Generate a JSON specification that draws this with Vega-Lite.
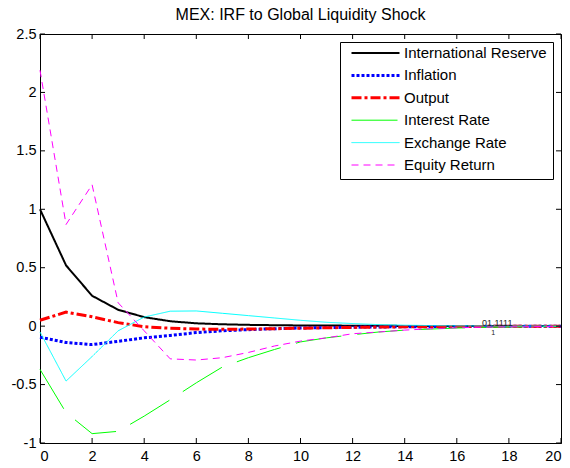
{
  "$schema": "https://vega.github.io/schema/vega-lite/v6.json",
  "autosize": {"type": "none"},
  "padding": {"left": 40, "top": 34, "right": 9, "bottom": 25},
  "width": 521,
  "height": 409,
  "title": {
    "text": "MEX: IRF to Global Liquidity Shock",
    "font": "Liberation Sans",
    "fontSize": 16,
    "fontWeight": "normal",
    "color": "black",
    "anchor": "middle",
    "offset": 3
  },
  "datasets": {
    "xticks": [{"t": 0}, {"t": 2}, {"t": 4}, {"t": 6}, {"t": 8}, {"t": 10}, {"t": 12}, {"t": 14}, {"t": 16}, {"t": 18}, {"t": 20}],
    "yticks": [{"v": -1}, {"v": -0.5}, {"v": 0}, {"v": 0.5}, {"v": 1}, {"v": 1.5}, {"v": 2}, {"v": 2.5}]
  },
  "data": {
    "values": [
      {"t": 0, "series": "International Reserve", "v": 1.0},
      {"t": 1, "series": "International Reserve", "v": 0.52},
      {"t": 2, "series": "International Reserve", "v": 0.26},
      {"t": 3, "series": "International Reserve", "v": 0.14},
      {"t": 4, "series": "International Reserve", "v": 0.077},
      {"t": 5, "series": "International Reserve", "v": 0.042},
      {"t": 6, "series": "International Reserve", "v": 0.024},
      {"t": 7, "series": "International Reserve", "v": 0.016},
      {"t": 8, "series": "International Reserve", "v": 0.011},
      {"t": 9, "series": "International Reserve", "v": 0.008},
      {"t": 10, "series": "International Reserve", "v": 0.006},
      {"t": 11, "series": "International Reserve", "v": 0.005},
      {"t": 12, "series": "International Reserve", "v": 0.004},
      {"t": 13, "series": "International Reserve", "v": 0.003},
      {"t": 14, "series": "International Reserve", "v": 0.002},
      {"t": 15, "series": "International Reserve", "v": 0.002},
      {"t": 16, "series": "International Reserve", "v": 0.001},
      {"t": 17, "series": "International Reserve", "v": 0.001},
      {"t": 18, "series": "International Reserve", "v": 0.001},
      {"t": 19, "series": "International Reserve", "v": 0.0005},
      {"t": 20, "series": "International Reserve", "v": 0.0003},

      {"t": 0, "series": "Inflation", "v": -0.095},
      {"t": 1, "series": "Inflation", "v": -0.14},
      {"t": 2, "series": "Inflation", "v": -0.158},
      {"t": 3, "series": "Inflation", "v": -0.13},
      {"t": 4, "series": "Inflation", "v": -0.1},
      {"t": 5, "series": "Inflation", "v": -0.08},
      {"t": 6, "series": "Inflation", "v": -0.055},
      {"t": 7, "series": "Inflation", "v": -0.04},
      {"t": 8, "series": "Inflation", "v": -0.03},
      {"t": 9, "series": "Inflation", "v": -0.022},
      {"t": 10, "series": "Inflation", "v": -0.016},
      {"t": 11, "series": "Inflation", "v": -0.012},
      {"t": 12, "series": "Inflation", "v": -0.009},
      {"t": 13, "series": "Inflation", "v": -0.007},
      {"t": 14, "series": "Inflation", "v": -0.005},
      {"t": 15, "series": "Inflation", "v": -0.004},
      {"t": 16, "series": "Inflation", "v": -0.003},
      {"t": 17, "series": "Inflation", "v": -0.002},
      {"t": 18, "series": "Inflation", "v": -0.0015},
      {"t": 19, "series": "Inflation", "v": -0.001},
      {"t": 20, "series": "Inflation", "v": -0.0008},

      {"t": 0, "series": "Output", "v": 0.05},
      {"t": 1, "series": "Output", "v": 0.12},
      {"t": 2, "series": "Output", "v": 0.08},
      {"t": 3, "series": "Output", "v": 0.03},
      {"t": 4, "series": "Output", "v": -0.005},
      {"t": 5, "series": "Output", "v": -0.018},
      {"t": 6, "series": "Output", "v": -0.025},
      {"t": 7, "series": "Output", "v": -0.027},
      {"t": 8, "series": "Output", "v": -0.025},
      {"t": 9, "series": "Output", "v": -0.022},
      {"t": 10, "series": "Output", "v": -0.018},
      {"t": 11, "series": "Output", "v": -0.014},
      {"t": 12, "series": "Output", "v": -0.011},
      {"t": 13, "series": "Output", "v": -0.008},
      {"t": 14, "series": "Output", "v": -0.006},
      {"t": 15, "series": "Output", "v": -0.004},
      {"t": 16, "series": "Output", "v": -0.003},
      {"t": 17, "series": "Output", "v": -0.002},
      {"t": 18, "series": "Output", "v": -0.0015},
      {"t": 19, "series": "Output", "v": -0.001},
      {"t": 20, "series": "Output", "v": -0.0007},

      {"t": 0, "series": "Interest Rate", "v": -0.37},
      {"t": 1, "series": "Interest Rate", "v": -0.74},
      {"t": 2, "series": "Interest Rate", "v": -0.92},
      {"t": 3, "series": "Interest Rate", "v": -0.9},
      {"t": 4, "series": "Interest Rate", "v": -0.77},
      {"t": 5, "series": "Interest Rate", "v": -0.63},
      {"t": 6, "series": "Interest Rate", "v": -0.485},
      {"t": 7, "series": "Interest Rate", "v": -0.35},
      {"t": 8, "series": "Interest Rate", "v": -0.27},
      {"t": 9, "series": "Interest Rate", "v": -0.2},
      {"t": 10, "series": "Interest Rate", "v": -0.135},
      {"t": 11, "series": "Interest Rate", "v": -0.1},
      {"t": 12, "series": "Interest Rate", "v": -0.074},
      {"t": 13, "series": "Interest Rate", "v": -0.05},
      {"t": 14, "series": "Interest Rate", "v": -0.034},
      {"t": 15, "series": "Interest Rate", "v": -0.025},
      {"t": 16, "series": "Interest Rate", "v": -0.016},
      {"t": 17, "series": "Interest Rate", "v": -0.011},
      {"t": 18, "series": "Interest Rate", "v": -0.007},
      {"t": 19, "series": "Interest Rate", "v": -0.005},
      {"t": 20, "series": "Interest Rate", "v": -0.003},

      {"t": 0, "series": "Exchange Rate", "v": -0.05},
      {"t": 1, "series": "Exchange Rate", "v": -0.47},
      {"t": 2, "series": "Exchange Rate", "v": -0.26},
      {"t": 3, "series": "Exchange Rate", "v": -0.04},
      {"t": 4, "series": "Exchange Rate", "v": 0.078},
      {"t": 5, "series": "Exchange Rate", "v": 0.128},
      {"t": 6, "series": "Exchange Rate", "v": 0.13},
      {"t": 7, "series": "Exchange Rate", "v": 0.11},
      {"t": 8, "series": "Exchange Rate", "v": 0.09},
      {"t": 9, "series": "Exchange Rate", "v": 0.07},
      {"t": 10, "series": "Exchange Rate", "v": 0.05},
      {"t": 11, "series": "Exchange Rate", "v": 0.033},
      {"t": 12, "series": "Exchange Rate", "v": 0.022},
      {"t": 13, "series": "Exchange Rate", "v": 0.013},
      {"t": 14, "series": "Exchange Rate", "v": 0.008},
      {"t": 15, "series": "Exchange Rate", "v": 0.005},
      {"t": 16, "series": "Exchange Rate", "v": 0.003},
      {"t": 17, "series": "Exchange Rate", "v": 0.002},
      {"t": 18, "series": "Exchange Rate", "v": 0.001},
      {"t": 19, "series": "Exchange Rate", "v": 0.0008},
      {"t": 20, "series": "Exchange Rate", "v": 0.0005},

      {"t": 0, "series": "Equity Return", "v": 2.19},
      {"t": 1, "series": "Equity Return", "v": 0.87},
      {"t": 2, "series": "Equity Return", "v": 1.21},
      {"t": 3, "series": "Equity Return", "v": 0.2},
      {"t": 4, "series": "Equity Return", "v": -0.04},
      {"t": 5, "series": "Equity Return", "v": -0.28},
      {"t": 6, "series": "Equity Return", "v": -0.29},
      {"t": 7, "series": "Equity Return", "v": -0.27},
      {"t": 8, "series": "Equity Return", "v": -0.225},
      {"t": 9, "series": "Equity Return", "v": -0.17},
      {"t": 10, "series": "Equity Return", "v": -0.128},
      {"t": 11, "series": "Equity Return", "v": -0.1},
      {"t": 12, "series": "Equity Return", "v": -0.065},
      {"t": 13, "series": "Equity Return", "v": -0.05},
      {"t": 14, "series": "Equity Return", "v": -0.034},
      {"t": 15, "series": "Equity Return", "v": -0.022},
      {"t": 16, "series": "Equity Return", "v": -0.014},
      {"t": 17, "series": "Equity Return", "v": -0.009},
      {"t": 18, "series": "Equity Return", "v": -0.006},
      {"t": 19, "series": "Equity Return", "v": -0.004},
      {"t": 20, "series": "Equity Return", "v": -0.002}
    ]
  },
  "layer": [
    {
      "mark": {"type": "line", "strokeCap": "butt", "strokeJoin": "miter"},
      "encoding": {
        "x": {
          "field": "t", "type": "quantitative",
          "scale": {"domain": [0, 20], "nice": false, "zero": false},
          "axis": {"orient": "bottom", "values": [0, 2, 4, 6, 8, 10, 12, 14, 16, 18, 20], "title": null, "ticks": false, "labelPadding": 6}
        },
        "y": {
          "field": "v", "type": "quantitative",
          "scale": {"domain": [-1, 2.5], "nice": false, "zero": false},
          "axis": {"orient": "left", "values": [-1, -0.5, 0, 0.5, 1, 1.5, 2, 2.5], "title": null, "ticks": false, "labelPadding": 4, "labelExpr": "datum.value + ''"}
        },
        "color": {
          "field": "series", "type": "nominal",
          "scale": {
            "domain": ["International Reserve", "Inflation", "Output", "Interest Rate", "Exchange Rate", "Equity Return"],
            "range": ["#000000", "#0000ff", "#ff0000", "#00ff00", "#00ffff", "#ff00ff"]
          },
          "legend": {"title": null}
        },
        "strokeDash": {
          "field": "series", "type": "nominal",
          "scale": {
            "domain": ["International Reserve", "Inflation", "Output", "Interest Rate", "Exchange Rate", "Equity Return"],
            "range": [[1, 0], [3, 2], [10, 3, 3, 3], [46, 16], [1, 0], [7, 5]]
          },
          "legend": {"title": null}
        },
        "strokeWidth": {
          "field": "series", "type": "nominal",
          "scale": {
            "type": "ordinal",
            "domain": ["International Reserve", "Inflation", "Output", "Interest Rate", "Exchange Rate", "Equity Return"],
            "range": [2, 3, 3, 1, 1, 1]
          },
          "legend": {"title": null}
        },
        "order": {"field": "t", "type": "quantitative"}
      }
    },
    {
      "data": {"name": "xticks"},
      "mark": {"type": "rule", "color": "#000000", "strokeWidth": 1, "y2Offset": -5},
      "encoding": {
        "x": {"field": "t", "type": "quantitative"},
        "y": {"datum": -1, "type": "quantitative"},
        "y2": {"datum": -1}
      }
    },
    {
      "data": {"name": "xticks"},
      "mark": {"type": "rule", "color": "#000000", "strokeWidth": 1, "y2Offset": 5},
      "encoding": {
        "x": {"field": "t", "type": "quantitative"},
        "y": {"datum": 2.5, "type": "quantitative"},
        "y2": {"datum": 2.5}
      }
    },
    {
      "data": {"name": "yticks"},
      "mark": {"type": "rule", "color": "#000000", "strokeWidth": 1, "x2Offset": 5},
      "encoding": {
        "y": {"field": "v", "type": "quantitative"},
        "x": {"datum": 0, "type": "quantitative"},
        "x2": {"datum": 0}
      }
    },
    {
      "data": {"name": "yticks"},
      "mark": {"type": "rule", "color": "#000000", "strokeWidth": 1, "x2Offset": -5},
      "encoding": {
        "y": {"field": "v", "type": "quantitative"},
        "x": {"datum": 20, "type": "quantitative"},
        "x2": {"datum": 20}
      }
    },
    {
      "data": {"values": [{"t": 17.55, "v": 0.03, "label": "01.1111"}]},
      "mark": {"type": "text", "font": "Liberation Sans", "fontSize": 9, "color": "#222222"},
      "encoding": {
        "x": {"field": "t", "type": "quantitative"},
        "y": {"field": "v", "type": "quantitative"},
        "text": {"field": "label"}
      }
    },
    {
      "data": {"values": [{"t": 17.4, "v": -0.062, "label": "1"}]},
      "mark": {"type": "text", "font": "Liberation Sans", "fontSize": 7, "color": "#222222"},
      "encoding": {
        "x": {"field": "t", "type": "quantitative"},
        "y": {"field": "v", "type": "quantitative"},
        "text": {"field": "label"}
      }
    }
  ],
  "config": {
    "view": {"stroke": "#000000", "strokeWidth": 1},
    "font": "Liberation Sans",
    "axis": {
      "grid": false,
      "domainColor": "#000000",
      "domainWidth": 1,
      "labelColor": "#000000",
      "labelFont": "Liberation Sans",
      "labelFontSize": 14.5
    },
    "legend": {
      "orient": "none",
      "legendX": 300,
      "legendY": 8,
      "strokeColor": "#000000",
      "fillColor": "#ffffff",
      "padding": 6,
      "symbolType": "stroke",
      "symbolSize": 2304,
      "symbolOffset": 4,
      "clipHeight": 10,
      "rowPadding": 7.4,
      "labelOffset": 3,
      "labelFont": "Liberation Sans",
      "labelFontSize": 15,
      "labelColor": "#000000",
      "labelLimit": 300
    }
  }
}
